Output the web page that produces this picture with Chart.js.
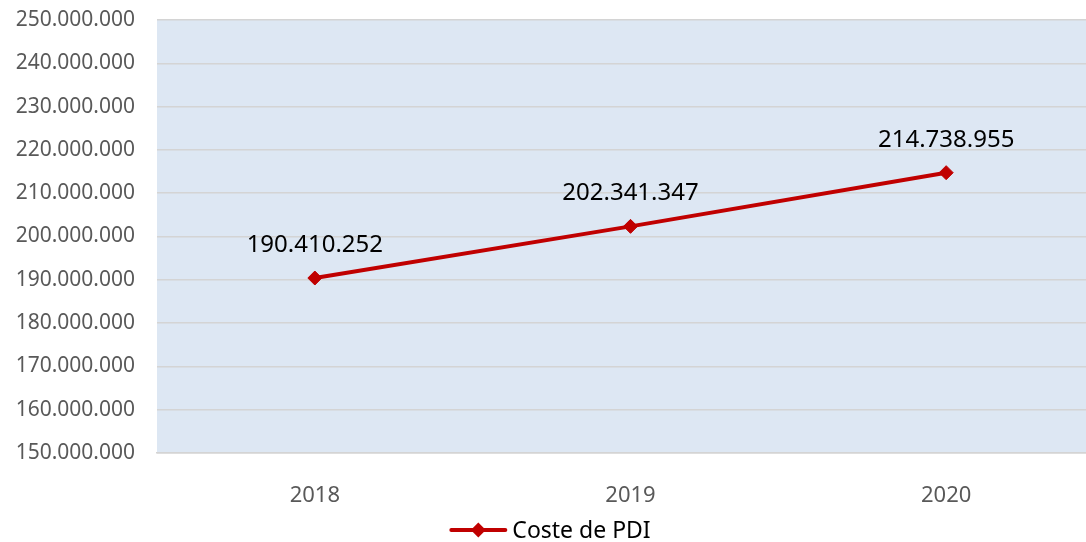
<!DOCTYPE html>
<html>
<head>
<meta charset="utf-8">
<script src="https://cdn.jsdelivr.net/npm/chart.js@4/dist/chart.umd.min.js"></script>
<style>
  html, body { margin: 0; padding: 0; background: #ffffff; overflow: hidden; }
  #wrap { width: 1112px; height: 542px; position: relative; }
</style>
</head>
<body>
<div id="wrap"><canvas id="chart"></canvas></div>
<script>
// Yearly PDI cost
const years = ['2018', '2019', '2020'];
const costeValues = [190410252, 202341347, 214738955];
const seriesName = 'Coste de PDI';
const yMin = 150000000;
const yMax = 250000000;
const yStep = 10000000;

const FONT = '"Noto Sans", "Open Sans", sans-serif';
const LINE_COLOR = '#c00000';

// Thousands separated with dots
function fmt(v) {
  const s = Math.round(v).toString();
  return s.replace(/\B(?=(\d{3})+(?!\d))/g, '.');
}

const plotBackground = {
  id: 'plotBackground',
  beforeDraw(chart) {
    const { ctx, chartArea: a } = chart;
    ctx.save();
    ctx.fillStyle = '#dde7f3';
    ctx.fillRect(a.left, a.top, a.right - a.left, a.bottom - a.top);
    ctx.restore();
  }
};

const valueLabels = {
  id: 'valueLabels',
  afterDatasetsDraw(chart) {
    const { ctx } = chart;
    const meta = chart.getDatasetMeta(0);
    ctx.save();
    ctx.font = '24px ' + FONT;
    ctx.fillStyle = '#000000';
    ctx.textAlign = 'center';
    ctx.textBaseline = 'middle';
    meta.data.forEach((pt, i) => {
      ctx.fillText(fmt(chart.data.datasets[0].data[i]), pt.x, pt.y - 33);
    });
    ctx.restore();
  }
};

const lineLegend = {
  id: 'lineLegend',
  afterDraw(chart) {
    const { ctx } = chart;
    const ds = chart.data.datasets[0];
    ctx.save();
    ctx.font = '23px ' + FONT;
    const tw = ctx.measureText(ds.label).width;
    const lineLen = 54, gap = 7;
    const total = lineLen + gap + tw;
    const x0 = 551 - total / 2;
    const y = 530;
    ctx.strokeStyle = ds.borderColor;
    ctx.lineWidth = ds.borderWidth;
    ctx.lineCap = 'round';
    ctx.beginPath();
    ctx.moveTo(x0, y);
    ctx.lineTo(x0 + lineLen, y);
    ctx.stroke();
    const cx = x0 + lineLen / 2, r = 7.5;
    ctx.fillStyle = ds.pointBackgroundColor;
    ctx.beginPath();
    ctx.moveTo(cx, y - r);
    ctx.lineTo(cx + r, y);
    ctx.lineTo(cx, y + r);
    ctx.lineTo(cx - r, y);
    ctx.closePath();
    ctx.fill();
    ctx.fillStyle = '#000000';
    ctx.textAlign = 'left';
    ctx.textBaseline = 'middle';
    ctx.fillText(ds.label, x0 + lineLen + gap, y + 1);
    ctx.restore();
  }
};

new Chart(document.getElementById('chart'), {
  type: 'line',
  data: {
    labels: years,
    datasets: [{
      label: seriesName,
      data: costeValues,
      borderColor: LINE_COLOR,
      backgroundColor: LINE_COLOR,
      pointBackgroundColor: LINE_COLOR,
      pointBorderColor: LINE_COLOR,
      borderWidth: 4,
      pointStyle: 'rectRot',
      pointRadius: 7,
      pointBorderWidth: 1,
      tension: 0,
      fill: false
    }]
  },
  options: {
    responsive: true,
    maintainAspectRatio: false,
    animation: false,
    layout: { padding: { top: 20, right: 0, left: 0, bottom: 0 } },
    plugins: {
      legend: { display: false },
      tooltip: { enabled: false }
    },
    scales: {
      x: {
        offset: true,
        grid: { display: false },
        border: { display: true, color: '#d4d4d4', width: 1.5 },
        ticks: { color: '#595959', font: { family: FONT, size: 22 }, padding: 22 },
        afterFit(scale) { scale.height = 89; scale.paddingLeft = 0; scale.paddingRight = 0; }
      },
      y: {
        min: yMin,
        max: yMax,
        grid: { color: '#d4d4d4', lineWidth: 1.5, drawTicks: false },
        border: { display: false },
        ticks: {
          stepSize: yStep,
          color: '#595959',
          font: { family: FONT, size: 21 },
          padding: 22,
          callback: (v) => fmt(v)
        },
        afterFit(scale) { scale.width = 157; scale.paddingTop = 0; scale.paddingBottom = 0; }
      }
    }
  },
  plugins: [plotBackground, valueLabels, lineLegend]
});
</script>
</body>
</html>
